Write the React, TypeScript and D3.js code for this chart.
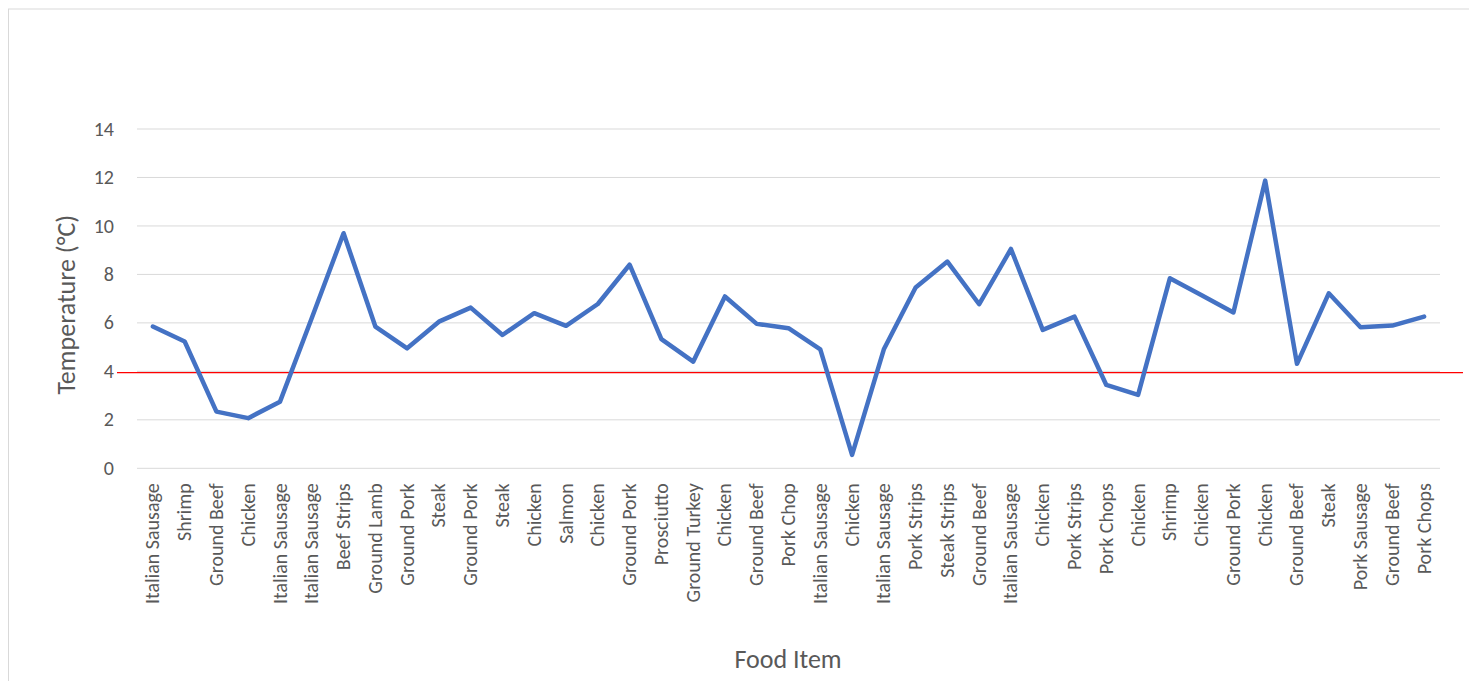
import React from "react";
import * as d3 from "d3";

const categories: string[] = [
  "Italian Sausage", "Shrimp", "Ground Beef", "Chicken", "Italian Sausage", "Italian Sausage",
  "Beef Strips", "Ground Lamb", "Ground Pork", "Steak", "Ground Pork", "Steak", "Chicken",
  "Salmon", "Chicken", "Ground Pork", "Prosciutto", "Ground Turkey", "Chicken", "Ground Beef",
  "Pork Chop", "Italian Sausage", "Chicken", "Italian Sausage", "Pork Strips", "Steak Strips",
  "Ground Beef", "Italian Sausage", "Chicken", "Pork Strips", "Pork Chops", "Chicken", "Shrimp",
  "Chicken", "Ground Pork", "Chicken", "Ground Beef", "Steak", "Pork Sausage", "Ground Beef",
  "Pork Chops",
];

const temperatures: number[] = [
  5.85, 5.23, 2.34, 2.07, 2.75, 6.2, 9.7, 5.85, 4.95, 6.05, 6.63, 5.5, 6.4, 5.88, 6.78, 8.4,
  5.33, 4.4, 7.09, 5.96, 5.78, 4.91, 0.55, 4.91, 7.46, 8.53, 6.77, 9.05, 5.71, 6.26, 3.44,
  3.03, 7.84, 7.14, 6.43, 11.87, 4.31, 7.22, 5.82, 5.89, 6.26,
];

const yTicks: number[] = [0, 2, 4, 6, 8, 10, 12, 14];
const thresholdValue = 3.95;

const W = 1462;
const H = 690;
const plotLeft = 129;
const plotRight = 1432;
const plotTop = 121;
const plotBottom = 460.3;
const FONT = "Carlito, Calibri, 'Open Sans', sans-serif";
const TEXT = "#595959";

export default function App() {
  const x = d3
    .scalePoint<number>()
    .domain(d3.range(categories.length))
    .range([plotLeft, plotRight])
    .padding(0.5);
  const y = d3.scaleLinear().domain([0, 14]).range([plotBottom, plotTop]);
  const line = d3
    .line<number>()
    .x((_, i) => x(i) as number)
    .y((d) => y(d));

  return (
    <svg width={W} height={H} style={{ display: "block", overflow: "visible" }}>
      <rect x={0.5} y={1} width={W - 1} height={H} fill="#fff" stroke="#d9d9d9" strokeWidth={1} />
      {yTicks.map((t) => (
        <g key={t}>
          <line x1={plotLeft} x2={plotRight} y1={y(t)} y2={y(t)} stroke="#d9d9d9" strokeWidth={1} />
          <text
            x={106}
            y={y(t)}
            dy="0.33em"
            textAnchor="end"
            fontFamily={FONT}
            fontSize={20}
            fill={TEXT}
          >
            {t}
          </text>
        </g>
      ))}
      <line
        x1={plotLeft - 20}
        x2={plotRight + 23}
        y1={y(thresholdValue)}
        y2={y(thresholdValue)}
        stroke="#ff0000"
        strokeWidth={1.3}
      />
      <path
        d={line(temperatures) || ""}
        fill="none"
        stroke="#4472C4"
        strokeWidth={4.5}
        strokeLinejoin="round"
        strokeLinecap="round"
      />
      {categories.map((c, i) => (
        <text
          key={i}
          transform={`translate(${(x(i) as number) + 6.5},${plotBottom + 15}) rotate(-90)`}
          textAnchor="end"
          fontFamily={FONT}
          fontSize={20}
          fill={TEXT}
        >
          {c}
        </text>
      ))}
      <text
        transform={`translate(67,${(plotTop + plotBottom) / 2 + 6}) rotate(-90)`}
        textAnchor="middle"
        fontFamily={FONT}
        fontSize={26}
        fill={TEXT}
      >
        Temperature (°C)
      </text>
      <text x={780} y={660} textAnchor="middle" fontFamily={FONT} fontSize={26} fill={TEXT}>
        Food Item
      </text>
    </svg>
  );
}
